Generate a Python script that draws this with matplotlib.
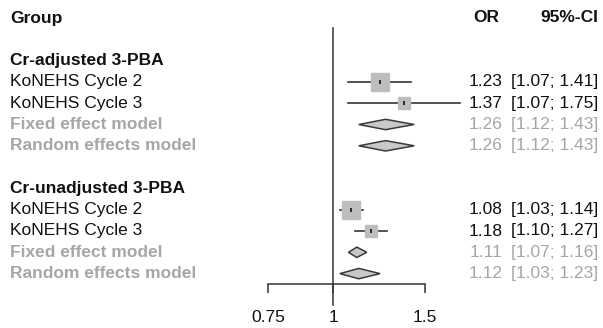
import numpy as np
import matplotlib

matplotlib.use("Agg")
import matplotlib.pyplot as plt
from matplotlib.patches import Polygon

plt.rcParams["font.family"] = ["Liberation Sans", "DejaVu Sans"]
FS = 12.5
BLACK = "#111111"
GREY = "#a6a6a6"

# --- data -------------------------------------------------------------------
groups = ["Cr-adjusted 3-PBA", "Cr-unadjusted 3-PBA"]
studies = ["KoNEHS Cycle 2", "KoNEHS Cycle 3"]
models = ["Fixed effect model", "Random effects model"]

# per group: study estimates / lower / upper, study weights (%)
study_or = [[1.23, 1.37], [1.08, 1.18]]
study_lo = [[1.07, 1.07], [1.03, 1.10]]
study_hi = [[1.41, 1.75], [1.14, 1.27]]
study_w = [[70, 30], [69, 31]]

# per group: fixed, random
model_or = [[1.26, 1.26], [1.11, 1.12]]
model_lo = [[1.12, 1.12], [1.07, 1.03]]
model_hi = [[1.43, 1.43], [1.16, 1.23]]

xticks = [0.75, 1, 1.5]
xticklabels = ["0.75", "1", "1.5"]

# --- layout -----------------------------------------------------------------
W, H = 603, 328
ROW0, DROW = 18, 21.3  # pixel y of row 0, row pitch


def row_of(py):
    return (py - ROW0) / DROW


fig = plt.figure(figsize=(W / 100, H / 100), dpi=100)

# text layer: x in pixels, y in rows
tx = fig.add_axes([0, 0, 1, 1])
tx.set_xlim(0, W)
tx.set_ylim(row_of(H), row_of(0))
tx.axis("off")

# forest layer: log x, y in rows
AX_L, AX_R, AX_B = 268, 425, 284
ax = fig.add_axes([AX_L / W, (H - AX_B) / H, (AX_R - AX_L) / W, AX_B / H])
ax.set_xscale("log")
ax.set_xlim(0.75, 1.5)
ax.set_ylim(row_of(AX_B), row_of(0))
ax.patch.set_alpha(0)
for s in ["top", "right", "left"]:
    ax.spines[s].set_visible(False)
ax.spines["bottom"].set_color("#333333")
ax.spines["bottom"].set_linewidth(1.1)
ax.set_yticks([])
ax.set_xticks(xticks)
ax.set_xticklabels(xticklabels)
ax.minorticks_off()
ax.tick_params(axis="x", direction="out", length=6.5, width=1.1, color="#333333",
               labelsize=FS, labelcolor=BLACK, pad=12.5)

# reference line at 1
ax.plot([1, 1], [row_of(28), row_of(305)], color="#333333", lw=1.1, clip_on=False)

# headers
tx.text(10, 0, "Group", fontsize=FS, fontweight="bold", color=BLACK, va="center")
tx.text(486, 0, "OR", fontsize=FS, fontweight="bold", color=BLACK, va="center", ha="center")
tx.text(598, 0, "95%-CI", fontsize=FS, fontweight="bold", color=BLACK, va="center", ha="right")

OR_X, CI_X = 486, 598
for g, name in enumerate(groups):
    base = 2 + 6 * g
    tx.text(10, base, name, fontsize=FS, fontweight="bold", color=BLACK, va="center")
    for k, st in enumerate(studies):
        r = base + 1 + k
        est, lo, hi = study_or[g][k], study_lo[g][k], study_hi[g][k]
        tx.text(10, r, st, fontsize=FS, color=BLACK, va="center")
        tx.text(OR_X, r, f"{est:.2f}", fontsize=FS, color=BLACK, va="center", ha="center")
        tx.text(CI_X, r, f"[{lo:.2f}; {hi:.2f}]", fontsize=FS, color=BLACK, va="center", ha="right")
        ax.plot([lo, hi], [r, r], color="#333333", lw=1.2, clip_on=False, zorder=2)
        size_px = 2.1 * np.sqrt(study_w[g][k])
        ax.plot([est], [r], marker="s", ms=size_px * 0.72, color="#bdbdbd",
                mec="#bdbdbd", lw=0, clip_on=False, zorder=3)
        ax.plot([est], [r], marker="|", ms=3.5, mew=1.2, color=BLACK, clip_on=False, zorder=4)
    for k, md in enumerate(models):
        r = base + 3 + k
        est, lo, hi = model_or[g][k], model_lo[g][k], model_hi[g][k]
        tx.text(10, r, md, fontsize=FS, fontweight="bold", color=GREY, va="center")
        tx.text(OR_X, r, f"{est:.2f}", fontsize=FS, color=GREY, va="center", ha="center")
        tx.text(CI_X, r, f"[{lo:.2f}; {hi:.2f}]", fontsize=FS, color=GREY, va="center", ha="right")
        h = 5.2 / DROW
        ax.add_patch(Polygon([(lo, r), (est, r - h), (hi, r), (est, r + h)], closed=True,
                             facecolor="#c8c8c8", edgecolor="#3a3a3a", lw=1.1,
                             clip_on=False, zorder=3))

fig.savefig("out.png", dpi=100)
